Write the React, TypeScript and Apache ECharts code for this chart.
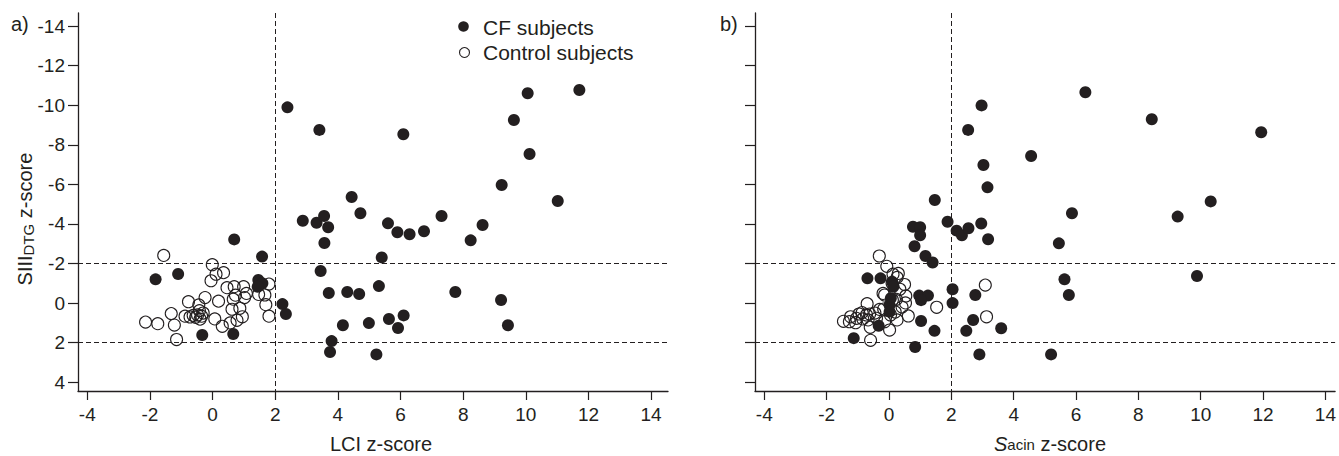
import React, { useEffect, useRef } from "react";
import * as echarts from "echarts";

// ---- data ----
const xTicks = [-4, -2, 0, 2, 4, 6, 8, 10, 12, 14];
const yTicks = [-14, -12, -10, -8, -6, -4, -2, 0, 2, 4];
const refX = [2];
const refY = [-2, 2];

const cfA: number[][] = [
  [2.39, -9.89], [3.41, -8.75], [6.09, -8.53], [10.06, -10.6], [11.71, -10.77], [9.62, -9.25],
  [10.12, -7.53], [9.23, -5.97], [11.02, -5.16], [4.44, -5.36], [4.72, -4.54], [7.31, -4.4],
  [8.62, -3.95], [5.6, -4.03], [5.9, -3.58], [6.29, -3.48], [6.75, -3.63], [8.24, -3.17],
  [2.88, -4.16], [3.32, -4.06], [3.56, -4.4], [3.69, -3.83], [3.57, -3.04], [5.4, -2.31],
  [3.45, -1.62], [3.71, -0.51], [4.3, -0.56], [4.68, -0.46], [5.31, -0.86], [7.75, -0.56],
  [9.21, -0.16], [4.16, 1.12], [4.99, 1.01], [5.63, 0.8], [6.1, 0.62], [5.92, 1.26],
  [9.43, 1.12], [3.8, 1.92], [3.75, 2.47], [5.23, 2.59], [0.69, -3.22], [1.58, -2.35],
  [-1.82, -1.2], [-1.1, -1.47], [1.46, -1.17], [1.59, -1.0], [1.44, -0.83], [2.23, 0.05],
  [2.34, 0.55], [-0.33, 1.61], [0.66, 1.56],
];

const ctrlA: number[][] = [
  [-1.56, -2.41], [-0.01, -1.94], [0.35, -1.54], [0.11, -1.46], [-0.05, -1.13], [0.46, -0.78],
  [0.69, -0.83], [0.99, -0.83], [1.08, -0.49], [1.02, -0.28], [0.73, -0.4], [0.66, -0.2],
  [1.8, -0.96], [1.47, -0.44], [1.67, -0.41], [-0.24, -0.28], [0.19, -0.1], [-0.77, -0.07],
  [-0.44, 0.09], [1.7, 0.08], [0.62, 0.31], [0.87, 0.26], [-0.42, 0.38], [-1.32, 0.53],
  [-0.88, 0.66], [-0.72, 0.7], [-0.54, 0.72], [-0.3, 0.5], [-0.4, 0.81], [0.07, 0.8],
  [0.95, 0.69], [0.78, 0.87], [1.8, 0.66], [0.56, 1.0], [0.31, 1.17], [-2.14, 0.96],
  [-1.75, 1.04], [-1.22, 1.11], [-1.15, 1.84], [-0.62, 0.62], [-0.48, 0.6], [-0.35, 0.66],
];

const cfB: number[][] = [
  [2.97, -9.99], [2.54, -8.75], [4.56, -7.43], [3.03, -6.98], [3.16, -5.85], [1.47, -5.21],
  [1.88, -4.11], [0.77, -3.86], [1.0, -3.83], [1.0, -3.43], [0.82, -2.87], [2.17, -3.66],
  [2.34, -3.43], [2.55, -3.78], [2.96, -4.02], [3.18, -3.23], [1.17, -2.38], [1.4, -2.05],
  [6.3, -10.65], [8.43, -9.29], [11.94, -8.63], [5.87, -4.54], [9.26, -4.37], [10.32, -5.14],
  [5.45, -3.02], [5.63, -1.2], [5.77, -0.41], [9.88, -1.37], [5.2, 2.59], [3.6, 1.27],
  [2.9, 2.59], [2.48, 1.4], [2.7, 0.85], [2.77, -0.41], [2.04, -0.7], [2.04, 0.0],
  [0.84, 2.22], [1.03, 0.9], [1.46, 1.4], [-1.13, 1.77], [-0.33, 1.14], [-0.69, -1.25],
  [-0.27, -1.25], [0.1, -1.08], [0.14, -0.83], [0.02, 0.1], [0.02, 0.43], [0.06, -0.25],
  [0.97, -0.38], [1.25, -0.38], [1.03, -0.15],
];

const ctrlB: number[][] = [
  [-0.31, -2.38], [-0.07, -1.86], [0.13, -1.46], [0.3, -1.5], [0.26, -1.3], [0.5, -0.94],
  [-0.19, -0.49], [0.11, -0.16], [0.54, -0.36], [0.53, -0.01], [0.24, -0.19], [1.53, 0.21],
  [3.09, -0.91], [3.13, 0.69], [-0.7, 0.03], [-0.3, 0.32], [-0.17, 0.3], [-0.62, 0.55],
  [-0.86, 0.48], [-0.96, 0.55], [-1.23, 0.69], [-1.04, 0.77], [-1.46, 0.92], [-1.27, 0.94],
  [-1.07, 0.99], [-0.72, 0.6], [-0.67, 0.85], [-0.6, 1.22], [-0.14, 0.94], [0.26, 0.85],
  [0.02, 1.36], [0.62, 0.65], [-0.59, 1.88], [-0.4, 0.77], [-0.14, -0.41], [0.05, 0.6],
  [0.2, 0.45], [-0.45, 0.5], [0.35, -0.7], [0.42, 0.2], [-0.84, 0.8], [0.1, -1.0],
];

const INK = "#231f20";
const FONT = "'Liberation Sans', Arial, Helvetica, sans-serif";

function xAxis(gridIndex: number, max: number, showLabels: boolean) {
  return {
    type: "value",
    gridIndex,
    min: -4.297,
    max,
    axisLine: { show: true, onZero: false, lineStyle: { color: INK, width: 1.3 } },
    axisTick: { show: true, length: 9, customValues: xTicks, lineStyle: { color: INK, width: 1.2 } },
    axisLabel: {
      show: showLabels,
      customValues: xTicks,
      margin: 14,
      color: INK,
      fontSize: 19,
      fontFamily: FONT,
    },
    splitLine: { show: false },
  };
}

function yAxis(gridIndex: number, showLabels: boolean) {
  return {
    type: "value",
    gridIndex,
    inverse: true,
    min: -14.657,
    max: 4.44,
    axisLine: { show: true, onZero: false, lineStyle: { color: INK, width: 1.3 } },
    axisTick: { show: true, length: 10, customValues: yTicks, lineStyle: { color: INK, width: 1.2 } },
    axisLabel: {
      show: showLabels,
      customValues: yTicks,
      margin: 13,
      color: INK,
      fontSize: 19,
      fontFamily: FONT,
    },
    splitLine: { show: false },
  };
}

const markLines = {
  silent: true,
  symbol: ["none", "none"],
  label: { show: false },
  lineStyle: { color: INK, width: 1, type: [5, 3] },
  data: [...refX.map((v) => ({ xAxis: v })), ...refY.map((v) => ({ yAxis: v }))],
};

function cfSeries(name: string, idx: number, data: number[][]) {
  return {
    type: "scatter",
    name,
    xAxisIndex: idx,
    yAxisIndex: idx,
    data,
    symbol: "circle",
    symbolSize: 12,
    itemStyle: { color: INK, opacity: 1 },
    markLine: markLines,
    z: 3,
  };
}

function ctrlSeries(name: string, idx: number, data: number[][]) {
  return {
    type: "scatter",
    name,
    xAxisIndex: idx,
    yAxisIndex: idx,
    data,
    symbol: "circle",
    symbolSize: 12,
    itemStyle: { color: "rgba(0,0,0,0)", borderColor: INK, borderWidth: 1.1, opacity: 1 },
    z: 2,
  };
}

export default function App() {
  const ref = useRef<HTMLDivElement>(null);
  useEffect(() => {
    if (!ref.current) return;
    const chart = echarts.init(ref.current, undefined, { renderer: "svg" });
    chart.setOption({
      animation: false,
      backgroundColor: "#ffffff",
      textStyle: { fontFamily: FONT },
      grid: [
        { left: 78, top: 13, right: 671, bottom: 65 },
        { left: 755, top: 13, right: 1, bottom: 65 },
      ],
      xAxis: [xAxis(0, 14.54, true), xAxis(1, 14.31, true)],
      yAxis: [yAxis(0, true), yAxis(1, false)],
      series: [
        cfSeries("CF subjects", 0, cfA),
        ctrlSeries("Control subjects", 0, ctrlA),
        cfSeries("CF subjects", 1, cfB),
        ctrlSeries("Control subjects", 1, ctrlB),
      ],
      graphic: [
        { type: "text", left: 11, top: 14, style: { text: "a)", font: `20px ${FONT}`, fill: INK } },
        { type: "text", left: 720, top: 14, style: { text: "b)", font: `20px ${FONT}`, fill: INK } },
        { type: "circle", shape: { cx: 463.5, cy: 26.5, r: 5.3 }, style: { fill: INK } },
        { type: "circle", shape: { cx: 464.5, cy: 52.5, r: 5 }, style: { fill: "none", stroke: INK, lineWidth: 1.1 } },
        {
          type: "text",
          x: 483,
          y: 27.5,
          style: { text: "CF subjects", font: `21px ${FONT}`, fill: INK, align: "left", verticalAlign: "middle" },
        },
        {
          type: "text",
          x: 483,
          y: 52.5,
          style: { text: "Control subjects", font: `21px ${FONT}`, fill: INK, align: "left", verticalAlign: "middle" },
        },
        {
          type: "text",
          x: 381,
          y: 444,
          style: {
            text: "LCI z-score",
            font: `20px ${FONT}`,
            lineHeight: 20,
            fill: INK,
            align: "center",
            verticalAlign: "middle",
          },
        },
        {
          type: "text",
          x: 1050,
          y: 444,
          style: {
            text: "{s|S}{t|acin}{n| z-score}",
            align: "center",
            verticalAlign: "middle",
            rich: {
              s: { fontSize: 20, lineHeight: 20, fontStyle: "italic", fontFamily: FONT, fill: INK, color: INK },
              t: { fontSize: 15, lineHeight: 20, fontFamily: FONT, fill: INK, color: INK },
              n: { fontSize: 20, lineHeight: 20, fontFamily: FONT, fill: INK, color: INK },
            },
          },
        },
        {
          type: "text",
          x: 25,
          y: 219,
          rotation: Math.PI / 2,
          style: {
            text: "{a|SIII}{b|DTG}{a| z-score}",
            align: "center",
            verticalAlign: "middle",
            rich: {
              a: { fontSize: 20, lineHeight: 22, fontFamily: FONT, fill: INK, color: INK },
              b: { fontSize: 15, lineHeight: 22, fontFamily: FONT, fill: INK, color: INK, verticalAlign: "bottom" },
            },
          },
        },
      ],
    });
    return () => chart.dispose();
  }, []);
  return (
    <div
      ref={ref}
      style={{ position: "absolute", left: 0, top: 0, width: 1339, height: 456, background: "#fff" }}
    />
  );
}
